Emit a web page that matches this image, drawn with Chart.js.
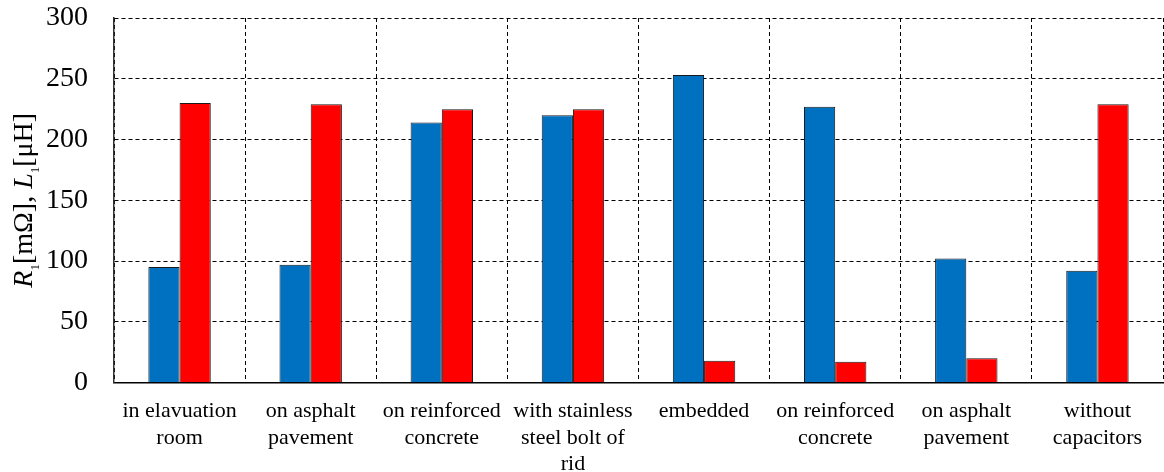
<!DOCTYPE html>
<html>
<head>
<meta charset="utf-8">
<script src="https://cdn.jsdelivr.net/npm/chart.js@4"></script>
<style>
html,body{margin:0;padding:0;background:#fff;}
#wrap{width:1164px;height:472px;}
</style>
</head>
<body>
<div id="wrap"><canvas id="c" width="1164" height="472"></canvas></div>
<script>
const categories = [
  ["in elavuation", "room"],
  ["on asphalt", "pavement"],
  ["on reinforced", "concrete"],
  ["with stainless", "steel bolt of", "rid"],
  ["embedded"],
  ["on reinforced", "concrete"],
  ["on asphalt", "pavement"],
  ["without", "capacitors"]
];
const resistanceR1 = [95, 97, 214, 220, 253, 227, 102, 92];
const inductanceL1 = [230, 229, 225, 225, 18, 17, 20, 229];
const yTicks = [0, 50, 100, 150, 200, 250, 300];

const FONT = "'Liberation Serif', 'Times New Roman', serif";

const yTitlePlugin = {
  id: 'yTitle',
  afterDraw(chart) {
    const ctx = chart.ctx;
    const area = chart.chartArea;
    const parts = [
      {t: 'R', f: 'italic 28px ' + FONT, dy: 0},
      {t: '1', f: '13px ' + FONT, dy: 7},
      {t: '[mΩ], ', f: '28px ' + FONT, dy: 0},
      {t: 'L', f: 'italic 28px ' + FONT, dy: 0},
      {t: '1', f: '13px ' + FONT, dy: 7},
      {t: '[μH]', f: '28px ' + FONT, dy: 0}
    ];
    ctx.save();
    let total = 0;
    parts.forEach(p => { ctx.font = p.f; p.w = ctx.measureText(p.t).width; total += p.w; });
    ctx.translate(32, (area.top + area.bottom) / 2);
    ctx.rotate(-Math.PI / 2);
    ctx.fillStyle = '#000';
    ctx.textBaseline = 'alphabetic';
    ctx.textAlign = 'left';
    let x = -total / 2;
    parts.forEach(p => { ctx.font = p.f; ctx.fillText(p.t, x, p.dy); x += p.w; });
    ctx.restore();
  }
};

new Chart(document.getElementById('c'), {
  type: 'bar',
  data: {
    labels: categories,
    datasets: [
      {
        label: 'R1',
        data: resistanceR1,
        backgroundColor: '#0070C0',
        borderColor: '#1a1a1a',
        borderWidth: 1,
        categoryPercentage: 0.476,
        barPercentage: 1.0
      },
      {
        label: 'L1',
        data: inductanceL1,
        backgroundColor: '#FF0000',
        borderColor: '#1a1a1a',
        borderWidth: 1,
        categoryPercentage: 0.476,
        barPercentage: 1.0
      }
    ]
  },
  options: {
    responsive: false,
    animation: false,
    layout: {padding: {top: 18, right: 1, left: 0, bottom: 0}},
    plugins: {legend: {display: false}, tooltip: {enabled: false}},
    scales: {
      x: {
        offset: true,
        grid: {
          offset: true,
          color: '#000',
          lineWidth: 1,
          drawTicks: false
        },
        border: {display: true, color: '#000', width: 1.5, dash: [4, 3]},
        ticks: {
          color: '#000',
          font: {family: FONT, size: 22, lineHeight: 1.2},
          padding: 16,
          maxRotation: 0,
          autoSkip: false
        },
        afterFit(scale) { scale.height = 89.5; }
      },
      y: {
        min: 0,
        max: 300,
        afterBuildTicks(scale) { scale.ticks = yTicks.map(v => ({value: v})); },
        grid: {
          color: '#000',
          lineWidth: 1,
          drawTicks: false
        },
        border: {display: true, color: '#333', width: 1.5, dash: [4, 3]},
        ticks: {
          color: '#000',
          font: {family: FONT, size: 28},
          padding: 26
        },
        afterFit(scale) {
          scale.width = 114;
          scale.paddingTop = 0;
          scale.paddingBottom = 0;
        }
      }
    }
  },
  plugins: [yTitlePlugin]
});
</script>
</body>
</html>
